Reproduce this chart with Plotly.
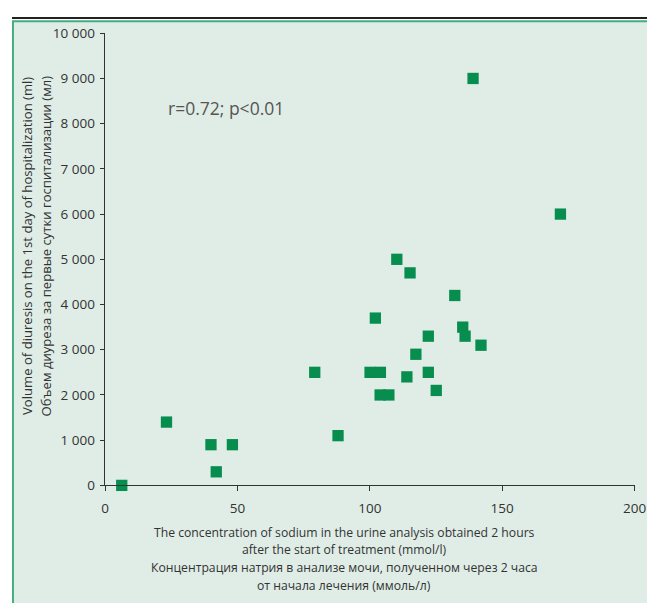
import plotly.graph_objects as go

# Data
sodium_mmol_l = [6.3, 23.2, 40.0, 42.0, 48.1, 79.2, 88.0, 100.1, 104.0, 102.1,
                 103.9, 107.2, 110.2, 115.2, 114.0, 117.4, 122.1, 122.1, 125.1,
                 132.1, 135.1, 136.0, 142.0, 139.0, 172.0]
diuresis_ml = [0, 1400, 900, 300, 900, 2500, 1100, 2500, 2500, 3700,
               2000, 2000, 5000, 4700, 2400, 2900, 3300, 2500, 2100,
               4200, 3500, 3300, 3100, 9000, 6000]

x_tick_vals = [0, 50, 100, 150, 200]
x_tick_text = ["0", "50", "100", "150", "200"]
y_tick_vals = [0, 1000, 2000, 3000, 4000, 5000, 6000, 7000, 8000, 9000, 10000]
y_tick_text = ["0", "1 000", "2 000", "3 000", "4 000", "5 000", "6 000",
               "7 000", "8 000", "9 000", "10 000"]

x_title_lines = [
    "The concentration of sodium in the urine analysis obtained 2 hours",
    "after the start of treatment (mmol/l)",
    "Концентрация натрия в анализе мочи, полученном через 2 часа",
    "от начала лечения (ммоль/л)",
]
y_title_lines = [
    "Volume of diuresis on the 1st day of hospitalization (ml)",
    "Объем диуреза за первые сутки госпитализации (мл)",
]
stat_text = "r=0.72; p<0.01"

W, H = 660, 606
# mapping from target picture pixels to figure pixels (measured for this page)
SX, AX = 0.978, 3.2
SY, AY = 0.97, 9.0
S = (SX + SY) / 2

def fx(o):
    return (o - AX) / SX - 8

def fy(o):
    return (o - AY) / SY - 8

def px(o):
    return fx(o) / W

def py(o):
    return 1 - fy(o) / H

FONT = "Open Sans"
TXT = "#333333"
BG = "#dfede6"
BORDER = "#45ad82"
MARK = "#078e4f"

fig = go.Figure()
fig.add_trace(go.Scatter(
    x=sodium_mmol_l, y=diuresis_ml, mode="markers",
    marker=dict(symbol="square", size=11 / S, color=MARK, line=dict(width=0)),
    cliponaxis=False, showlegend=False, hoverinfo="x+y",
))

top_black = 1.0 / H
top_green = 4.5 / H
shapes = [
    dict(type="rect", xref="paper", yref="paper", x0=0, x1=1.02, y0=-0.02, y1=1 - top_green,
         fillcolor=BG, line=dict(width=0), layer="below"),
    dict(type="line", xref="paper", yref="paper", x0=1.0 / W, x1=1.0 / W, y0=-0.02,
         y1=1 - top_green, line=dict(color=BORDER, width=2), layer="below"),
    dict(type="line", xref="paper", yref="paper", x0=0, x1=1.02, y0=1 - top_green,
         y1=1 - top_green, line=dict(color=BORDER, width=2), layer="below"),
    dict(type="line", xref="paper", yref="paper", x0=0, x1=1.02, y0=1 - top_black,
         y1=1 - top_black, line=dict(color="#222222", width=2), layer="below"),
]

annotations = []
for txt, yc in zip(x_title_lines, [531.7, 549.3, 567.3, 585.0]):
    annotations.append(dict(text=txt, xref="paper", yref="paper", x=px(344), y=py(yc),
                            xanchor="center", yanchor="middle", showarrow=False,
                            font=dict(family=FONT, size=12.2, color=TXT)))
for txt, xc in zip(y_title_lines, [26.2, 44.7]):
    annotations.append(dict(text=txt, xref="paper", yref="paper", x=px(xc), y=py(245.5),
                            xanchor="center", yanchor="middle", showarrow=False,
                            textangle=-90, font=dict(family=FONT, size=13.1, color=TXT)))
annotations.append(dict(text=stat_text, xref="paper", yref="paper", x=px(165.7), y=py(108),
                        xanchor="left", yanchor="middle", showarrow=False,
                        font=dict(family=FONT, size=17.5, color="#555555")))

axis_common = dict(showgrid=False, zeroline=False, showline=True, linecolor=TXT,
                   linewidth=1, ticks="outside", ticklen=4.4, tickcolor=TXT,
                   tickwidth=1, tickfont=dict(family=FONT, size=13.5, color=TXT),
                   tickmode="array", fixedrange=True)

fig.update_layout(
    width=W, height=H, margin=dict(l=0, r=0, t=0, b=0), autosize=False,
    paper_bgcolor="white", plot_bgcolor="rgba(0,0,0,0)",
    xaxis=dict(domain=[px(104.3), px(635)], range=[0, 200], ticklabelstandoff=6,
               tickvals=x_tick_vals, ticktext=x_tick_text, **axis_common),
    yaxis=dict(domain=[py(485), py(33)], range=[0, 10000], ticklabelstandoff=2,
               tickvals=y_tick_vals, ticktext=y_tick_text, **axis_common),
    shapes=shapes, annotations=annotations, showlegend=False,
)

fig.write_html("out.html")
